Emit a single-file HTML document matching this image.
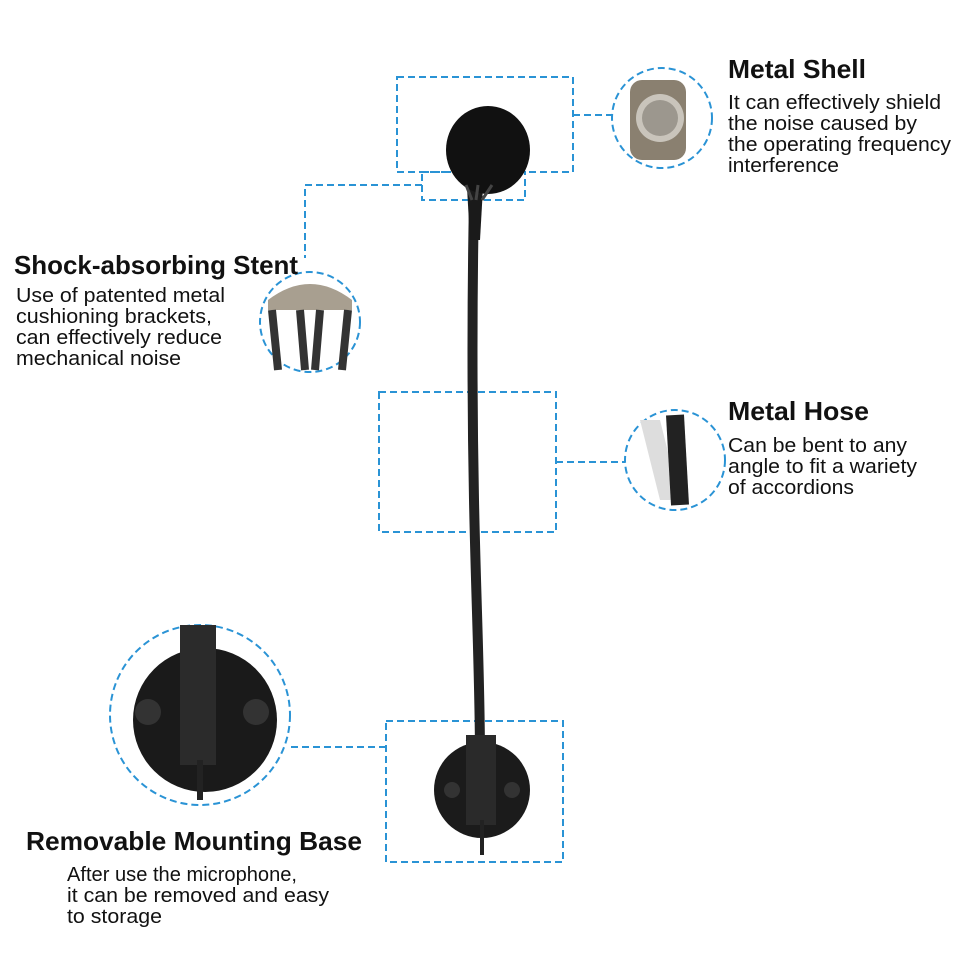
<!DOCTYPE html>
<html><head><meta charset="utf-8"><style>
html,body{margin:0;padding:0;background:#fff}
svg{display:block}
text{font-family:"Liberation Sans",Arial,sans-serif;fill:#111}
.t{font-size:26px;font-weight:bold}
.b{font-size:20px}
</style></head><body>
<svg width="960" height="960" viewBox="0 0 960 960">
<g fill="none" stroke="#2a93d5" stroke-width="2" stroke-dasharray="7,4">
<rect x="397" y="77" width="176" height="95"/>
<rect x="422" y="172" width="103" height="28"/>
<rect x="379" y="392" width="177" height="140"/>
<rect x="386" y="721" width="177" height="141"/>
<path d="M573 115H612"/>
<path d="M422 185H305V258"/>
<path d="M556 462H625"/>
<path d="M386 747H290"/>
<circle cx="662" cy="118" r="50"/>
<circle cx="310" cy="322" r="50"/>
<circle cx="675" cy="460" r="50"/>
<circle cx="200" cy="715" r="90"/>
</g>
<path d="M474 200 C472 300 472 400 474 500 C476 600 480 680 480 760" stroke="#222" stroke-width="10" fill="none"/>
<path d="M466 170 L470 240 L480 240 L484 170Z" fill="#1a1a1a"/>
<ellipse cx="488" cy="150" rx="42" ry="44" fill="#111"/>
<path d="M466 185 L472 200 M478 185 L476 200 M492 185 L482 200" stroke="#444" stroke-width="3"/>
<circle cx="482" cy="790" r="48" fill="#1b1b1b"/>
<rect x="466" y="735" width="30" height="90" fill="#2a2a2a"/>
<circle cx="452" cy="790" r="8" fill="#333"/><circle cx="512" cy="790" r="8" fill="#333"/>
<path d="M482 820 V855" stroke="#222" stroke-width="4"/>
<circle cx="662" cy="118" r="44" fill="#fff"/>
<rect x="630" y="80" width="56" height="80" rx="12" fill="#8a8070"/>
<circle cx="660" cy="118" r="24" fill="#c9c4bb"/>
<circle cx="660" cy="118" r="18" fill="#9c978e"/>
<circle cx="310" cy="322" r="44" fill="#fff"/>
<path d="M268 300 Q310 268 352 300 L352 310 L268 310Z" fill="#a89f90"/>
<path d="M272 310 L278 370 M348 310 L342 370 M300 310 L305 370 M320 310 L315 370" stroke="#333" stroke-width="8"/>
<circle cx="675" cy="460" r="44" fill="#fff"/>
<path d="M640 420 L660 500 L680 500 L660 420Z" fill="#ddd"/>
<path d="M675 415 L680 505" stroke="#222" stroke-width="18"/>
<circle cx="200" cy="715" r="84" fill="#fff"/>
<circle cx="205" cy="720" r="72" fill="#1a1a1a"/>
<rect x="180" y="625" width="36" height="140" fill="#2b2b2b"/>
<circle cx="148" cy="712" r="13" fill="#333"/><circle cx="256" cy="712" r="13" fill="#333"/>
<path d="M200 760 V800" stroke="#222" stroke-width="6"/>
<text class="t" x="728" y="78" textLength="138" lengthAdjust="spacingAndGlyphs">Metal Shell</text>
<text class="b" x="728" y="109" textLength="213" lengthAdjust="spacingAndGlyphs">It can effectively shield</text>
<text class="b" x="728" y="130" textLength="189" lengthAdjust="spacingAndGlyphs">the noise caused by</text>
<text class="b" x="728" y="151" textLength="223" lengthAdjust="spacingAndGlyphs">the operating frequency</text>
<text class="b" x="728" y="172" textLength="111" lengthAdjust="spacingAndGlyphs">interference</text>
<text class="t" x="14" y="274" textLength="284" lengthAdjust="spacingAndGlyphs">Shock-absorbing Stent</text>
<text class="b" x="16" y="302" textLength="209" lengthAdjust="spacingAndGlyphs">Use of patented metal</text>
<text class="b" x="16" y="323" textLength="196" lengthAdjust="spacingAndGlyphs">cushioning brackets,</text>
<text class="b" x="16" y="344" textLength="206" lengthAdjust="spacingAndGlyphs">can effectively reduce</text>
<text class="b" x="16" y="365" textLength="165" lengthAdjust="spacingAndGlyphs">mechanical noise</text>
<text class="t" x="728" y="420" textLength="141" lengthAdjust="spacingAndGlyphs">Metal Hose</text>
<text class="b" x="728" y="452" textLength="179" lengthAdjust="spacingAndGlyphs">Can be bent to any</text>
<text class="b" x="728" y="473" textLength="189" lengthAdjust="spacingAndGlyphs">angle to fit a wariety</text>
<text class="b" x="728" y="494" textLength="126" lengthAdjust="spacingAndGlyphs">of accordions</text>
<text class="t" x="26" y="850" textLength="336" lengthAdjust="spacingAndGlyphs">Removable Mounting Base</text>
<text class="b" x="67" y="881" textLength="230" lengthAdjust="spacingAndGlyphs">After use the microphone,</text>
<text class="b" x="67" y="902" textLength="262" lengthAdjust="spacingAndGlyphs">it can be removed and easy</text>
<text class="b" x="67" y="923" textLength="95" lengthAdjust="spacingAndGlyphs">to storage</text>
</svg>
</body></html>
